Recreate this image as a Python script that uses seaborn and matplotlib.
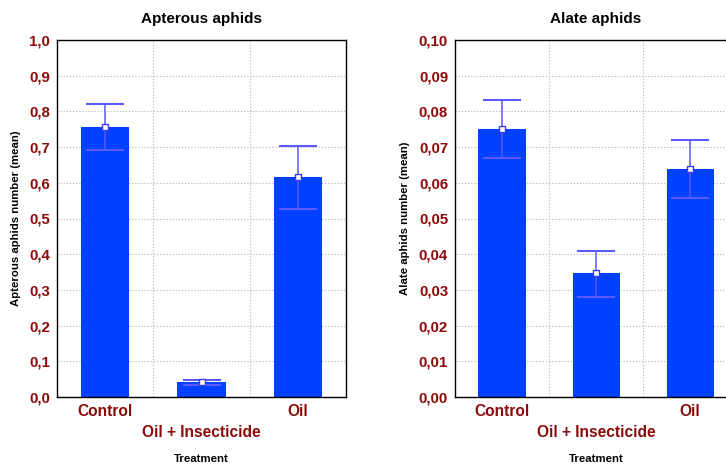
import matplotlib
matplotlib.use("Agg")
import matplotlib.pyplot as plt
import matplotlib.ticker as mticker
import seaborn as sns
import pandas as pd

# Treatment groups
treatments = ["Control", "Oil + Insecticide", "Oil"]

# Apterous aphids: mean with lower / upper error limits
apterous_mean = [0.757, 0.041, 0.615]
apterous_low = [0.691, 0.034, 0.526]
apterous_high = [0.822, 0.047, 0.704]

# Alate aphids: mean with lower / upper error limits
alate_mean = [0.0752, 0.0347, 0.0640]
alate_low = [0.0670, 0.0281, 0.0558]
alate_high = [0.0831, 0.0410, 0.0721]

apterous_ticks = [i / 10 for i in range(11)]
alate_ticks = [i / 100 for i in range(11)]

sns.set_theme(style="white")
plt.rcParams["font.family"] = ["Liberation Sans", "DejaVu Sans"]

BAR = "#0040ff"
ERR = "#5a5aff"
TICK_RED = "#8b0a0a"

fig = plt.figure(figsize=(7.26, 4.66), dpi=100)
ax1 = fig.add_axes([57 / 726, 69 / 466, 289 / 726, 357 / 466])
ax2 = fig.add_axes([455 / 726, 69 / 466, 282 / 726, 357 / 466])


def panel(ax, means, lows, highs, ticks, title, ylabel, fmt):
    df = pd.DataFrame({"Treatment": treatments, "value": means})
    sns.barplot(data=df, x="Treatment", y="value", order=treatments,
                color=BAR, saturation=1, width=0.5, errorbar=None,
                linewidth=0, ax=ax, zorder=2)
    xs = list(range(len(treatments)))
    yerr = [[m - lo for m, lo in zip(means, lows)],
            [hi - m for m, hi in zip(means, highs)]]
    ax.errorbar(xs, means, yerr=yerr, fmt="none", ecolor=ERR,
                elinewidth=1.1, capsize=14, capthick=1.5, zorder=3)
    ax.plot(xs, means, linestyle="none", marker="s", markersize=4,
            markerfacecolor="white", markeredgecolor="#3a3aff",
            markeredgewidth=1.0, zorder=4)

    ax.set_xlim(-0.5, 2.5)
    ax.set_ylim(ticks[0], ticks[-1])
    ax.set_yticks(ticks)
    ax.yaxis.set_major_formatter(
        mticker.FuncFormatter(lambda v, p: (fmt % v).replace(".", ",")))

    # gridlines at value ticks and at category boundaries
    ax.grid(False)
    for t in ticks[1:-1]:
        ax.axhline(t, color="#bdbdbd", linestyle=(0, (1.2, 1.6)),
                   linewidth=0.8, zorder=1)
    for b in (0.5, 1.5):
        ax.axvline(b, color="#bdbdbd", linestyle=(0, (1.2, 1.6)),
                   linewidth=0.8, zorder=1)

    # staggered category labels: outer groups on the first row
    ax.set_xticks([0, 2])
    ax.set_xticklabels([treatments[0], treatments[2]])
    ax.set_xticks([1], minor=True)
    ax.set_xticklabels([treatments[1]], minor=True)
    ax.tick_params(axis="x", which="major", length=0, pad=5,
                   labelsize=11.2, labelcolor=TICK_RED)
    ax.tick_params(axis="x", which="minor", length=0, pad=20,
                   labelsize=11.2, labelcolor=TICK_RED)
    for lab in ax.get_xticklabels(which="both"):
        lab.set_fontweight("bold")
    ax.tick_params(axis="y", length=0, pad=5, labelsize=10.8,
                   labelcolor=TICK_RED)
    for lab in ax.get_yticklabels():
        lab.set_fontweight("bold")

    for s in ax.spines.values():
        s.set_visible(True)
        s.set_color("black")
        s.set_linewidth(1.0)

    ax.set_title(title, fontsize=11, fontweight="bold", pad=12, color="black")
    ax.set_ylabel(ylabel, fontsize=8.2, fontweight="bold", labelpad=6,
                  color="black")
    ax.set_xlabel("Treatment", fontsize=8.2, fontweight="bold", color="black")
    ax.xaxis.set_label_coords(0.5, -0.16)


panel(ax1, apterous_mean, apterous_low, apterous_high, apterous_ticks,
      "Apterous aphids", "Apterous aphids number (mean)", "%.1f")
panel(ax2, alate_mean, alate_low, alate_high, alate_ticks,
      "Alate aphids", "Alate aphids number (mean)", "%.2f")

fig.savefig("out.png", dpi=100)
